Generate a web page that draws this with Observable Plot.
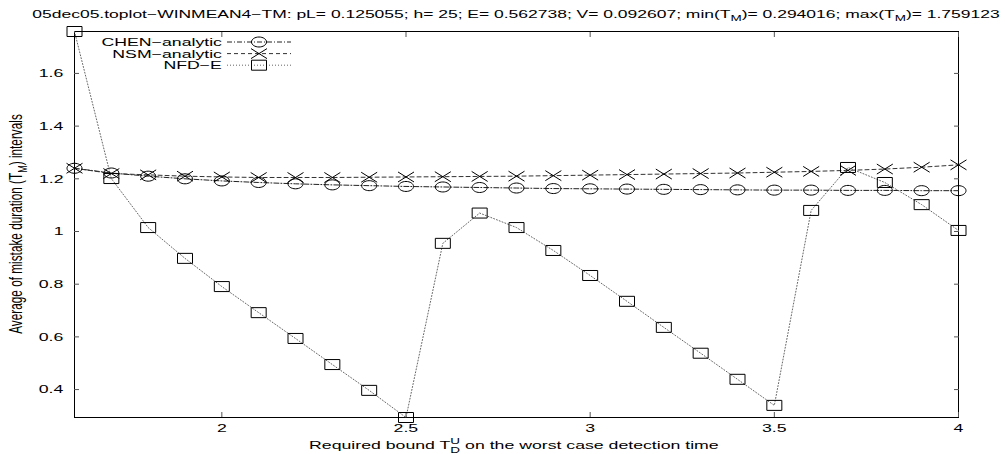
<!DOCTYPE html>
<html>
<head>
<meta charset="utf-8">
<script src="https://cdn.jsdelivr.net/npm/d3@7"></script>
<script src="https://cdn.jsdelivr.net/npm/@observablehq/plot@0.6"></script>
<style>
  html, body { margin: 0; padding: 0; background: #fff; }
  svg { font-family: "Liberation Sans", Arial, Helvetica, sans-serif; }
</style>
</head>
<body>
<div id="chart"></div>
<script>
// ---- data ----
const xs = [1.6, 1.7, 1.8, 1.9, 2.0, 2.1, 2.2, 2.3, 2.4, 2.5, 2.6, 2.7, 2.8, 2.9, 3.0, 3.1, 3.2, 3.3, 3.4, 3.5, 3.6, 3.7, 3.8, 3.9, 4.0];
const chen = [1.240, 1.222, 1.210, 1.200, 1.192, 1.186, 1.181, 1.177, 1.174, 1.171, 1.169, 1.167, 1.165, 1.163, 1.162, 1.161, 1.160, 1.159, 1.158, 1.157, 1.157, 1.156, 1.156, 1.155, 1.155];
const nsm  = [1.240, 1.220, 1.215, 1.210, 1.207, 1.205, 1.205, 1.205, 1.206, 1.207, 1.208, 1.209, 1.210, 1.212, 1.214, 1.216, 1.218, 1.220, 1.222, 1.225, 1.228, 1.232, 1.237, 1.244, 1.253];
const nfd  = [1.759123, 1.201, 1.015, 0.898, 0.791, 0.692, 0.594, 0.495, 0.397, 0.294016, 0.955, 1.070, 1.015, 0.928, 0.833, 0.735, 0.636, 0.538, 0.439, 0.340, 1.080, 1.243, 1.186, 1.102, 1.004];
const seriesNames = ["CHEN\u2212analytic", "NSM\u2212analytic", "NFD\u2212E"];
const xTicks = [2, 2.5, 3, 3.5, 4];
const yTicks = [0.4, 0.6, 0.8, 1.0, 1.2, 1.4, 1.6];
const yDomain = [0.294016, 1.759123];
const xDomain = [1.6, 4];

// ---- custom symbols (wide markers like the gnuplot output) ----
const K = 0.5523;
const ellipseSym = { draw(c, size) { const r = Math.sqrt(size / Math.PI); const w = 1.5 * r, h = r;
  c.moveTo(w, 0);
  c.bezierCurveTo(w, K*h, K*w, h, 0, h);
  c.bezierCurveTo(-K*w, h, -w, K*h, -w, 0);
  c.bezierCurveTo(-w, -K*h, -K*w, -h, 0, -h);
  c.bezierCurveTo(K*w, -h, w, -K*h, w, 0);
  c.closePath(); } };
const crossSym = { draw(c, size) { const r = Math.sqrt(size / Math.PI); const w = 1.6 * r, h = r;
  c.moveTo(-w, -h); c.lineTo(w, h); c.moveTo(-w, h); c.lineTo(w, -h); } };
const squareSym = { draw(c, size) { const r = Math.sqrt(size / Math.PI); const w = 1.5 * r, h = r;
  c.moveTo(-w, -h); c.lineTo(w, -h); c.lineTo(w, h); c.lineTo(-w, h); c.closePath(); } };

const styles = [
  { stroke: "#222", dash: "5,2,1,2", sym: ellipseSym },
  { stroke: "#333", dash: "4,3", sym: crossSym },
  { stroke: "#666", dash: "1,2", sym: squareSym }
];
const allSeries = [chen, nsm, nfd];
const rows = allSeries.map((vals, s) => xs.map((x, i) => ({ x, y: vals[i], s })));

const marks = [];
rows.forEach((data, s) => {
  marks.push(Plot.line(data, { x: "x", y: "y", stroke: styles[s].stroke, strokeWidth: 1, strokeDasharray: styles[s].dash }));
});
rows.forEach((data, s) => {
  marks.push(Plot.dot(data, { x: "x", y: "y", r: 5, symbol: styles[s].sym, stroke: "#000", fill: "none", strokeWidth: 1 }));
});

const FS = 11.8;
const chart = Plot.plot({
  width: 1005,
  height: 454,
  marginTop: 31,
  marginLeft: 74,
  marginRight: 47,
  marginBottom: 37,
  style: { fontFamily: "Liberation Sans, Arial, sans-serif", fontSize: FS + "px", color: "#000", background: "#fff" },
  x: { domain: xDomain },
  y: { domain: yDomain },
  marks: [
    Plot.frame({ stroke: "#000", strokeWidth: 1 }),
    Plot.axisX(xTicks, { anchor: "bottom", tickSize: -5, tickPadding: 11, label: null, fontSize: FS, stroke: "#555", tickFormat: d => String(d) }),
    Plot.axisX(xTicks, { anchor: "top", tickSize: -5, tickFormat: () => "", label: null, stroke: "#555" }),
    Plot.axisY(yTicks, { anchor: "left", tickSize: -5, tickPadding: 16, label: null, fontSize: FS, stroke: "#555", tickFormat: d => String(d) }),
    Plot.axisY(yTicks, { anchor: "right", tickSize: -5, tickFormat: () => "", label: null, stroke: "#555" }),
    ...marks
  ]
});

document.getElementById("chart").appendChild(chart);

// ---- title, axis labels and legend (text with sub/superscripts) ----
const svg = d3.select(chart);
const font = "Liberation Sans, Arial, sans-serif";

const title = svg.append("text").attr("x", 516).attr("y", 18).attr("text-anchor", "middle")
  .attr("font-family", font).attr("font-size", 11.65).attr("fill", "#000");
title.append("tspan").text("05dec05.toplot\u2212WINMEAN4\u2212TM: pL= 0.125055; h= 25; E= 0.562738; V= 0.092607; min(T");
title.append("tspan").attr("dy", 3).attr("font-size", 9).text("M");
title.append("tspan").attr("dy", -3).text(")= 0.294016; max(T");
title.append("tspan").attr("dy", 3).attr("font-size", 9).text("M");
title.append("tspan").attr("dy", -3).text(")= 1.759123");

const xl = svg.append("text").attr("x", 514).attr("y", 449).attr("text-anchor", "middle")
  .attr("font-family", font).attr("font-size", FS).attr("fill", "#000");
xl.append("tspan").text("Required bound T");
xl.append("tspan").attr("dy", -5).attr("font-size", 9).text("U");
xl.append("tspan").attr("dx", -6.5).attr("dy", 9).attr("font-size", 9).text("D");
xl.append("tspan").attr("dy", -4).text(" on the worst case detection time");

// legend
const lg = svg.append("g").attr("font-family", font).attr("font-size", FS);
seriesNames.forEach((name, s) => {
  const y = 42 + s * 11.6;
  lg.append("text").attr("x", 222).attr("y", y).attr("dy", "0.35em").attr("text-anchor", "end").attr("fill", "#000").text(name);
  lg.append("line").attr("x1", 227).attr("x2", 291).attr("y1", y).attr("y2", y)
    .attr("stroke", styles[s].stroke).attr("stroke-dasharray", styles[s].dash);
  const p = d3.path();
  styles[s].sym.draw(p, Math.PI * 25);
  lg.append("path").attr("transform", `translate(259,${y})`).attr("d", p.toString())
    .attr("fill", "none").attr("stroke", "#000");
});

// the reference was rendered with a 1.5x horizontal stretch: widen every horizontal text about its anchor
const SX = 1.5;
chart.querySelectorAll("text").forEach(t => {
  if (!t.textContent) return;
  const bb = t.getBBox();
  const anchor = getComputedStyle(t).textAnchor;
  const ax = anchor === "end" ? bb.x + bb.width : anchor === "middle" ? bb.x + bb.width / 2 : bb.x;
  const tr = t.getAttribute("transform") || "";
  t.setAttribute("transform", `${tr} translate(${ax},0) scale(${SX},1) translate(${-ax},0)`);
});

// vertical y-axis label: stretched across its height (screen-horizontal)
const yl = svg.append("text").attr("transform", `translate(22,224) scale(${SX},1) rotate(-90)`).attr("text-anchor", "middle")
  .attr("font-family", font).attr("font-size", FS).attr("fill", "#000");
yl.append("tspan").text("Average of mistake duration (T");
yl.append("tspan").attr("dy", 3).attr("font-size", 9).text("M");
yl.append("tspan").attr("dy", -3).text(") intervals");
</script>
</body>
</html>
